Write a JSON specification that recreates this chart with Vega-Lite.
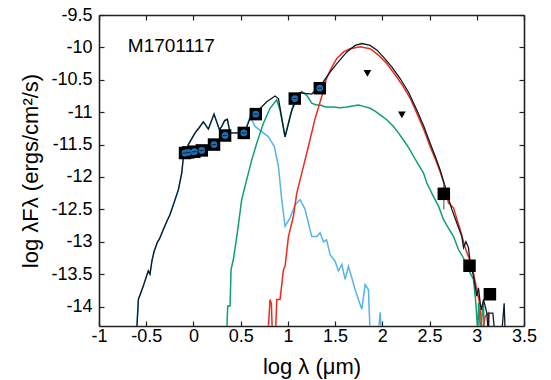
{
  "$schema": "https://vega.github.io/schema/vega-lite/v6.json",
  "width": 425,
  "height": 311,
  "autosize": {"type": "none"},
  "padding": {"left": 99, "top": 15, "right": 27, "bottom": 54},
  "background": "white",
  "config": {
    "view": {"stroke": null},
    "axis": {
      "labelFont": "Liberation Sans",
      "titleFont": "Liberation Sans",
      "labelFontSize": 18,
      "titleFontSize": 22,
      "titleFontWeight": "normal",
      "labelColor": "#000",
      "titleColor": "#000",
      "domainColor": "#222",
      "domainWidth": 1.6,
      "tickColor": "#222",
      "tickWidth": 1.2,
      "tickSize": -5,
      "grid": false,
      "labelFlush": false,
      "labelOverlap": false,
      "labelExpr": "'' + datum.value"
    }
  },
  "datasets": {
    "lines": [
      {"s": "stellar", "x": -0.6, "y": -14.35},
      {"s": "stellar", "x": -0.583, "y": -13.89},
      {"s": "stellar", "x": -0.53, "y": -13.68},
      {"s": "stellar", "x": -0.49, "y": -13.5},
      {"s": "stellar", "x": -0.478, "y": -13.45},
      {"s": "stellar", "x": -0.46, "y": -13.5},
      {"s": "stellar", "x": -0.44, "y": -13.3},
      {"s": "stellar", "x": -0.417, "y": -13.15},
      {"s": "stellar", "x": -0.38, "y": -13.0},
      {"s": "stellar", "x": -0.361, "y": -12.96},
      {"s": "stellar", "x": -0.319, "y": -12.81},
      {"s": "stellar", "x": -0.28, "y": -12.68},
      {"s": "stellar", "x": -0.248, "y": -12.58},
      {"s": "stellar", "x": -0.213, "y": -12.43},
      {"s": "stellar", "x": -0.16, "y": -12.2},
      {"s": "stellar", "x": -0.124, "y": -11.94},
      {"s": "stellar", "x": -0.107, "y": -11.7},
      {"s": "stellar", "x": -0.054, "y": -11.5},
      {"s": "stellar", "x": 0.017, "y": -11.32},
      {"s": "stellar", "x": 0.06, "y": -11.24},
      {"s": "stellar", "x": 0.105, "y": -11.15},
      {"s": "stellar", "x": 0.158, "y": -11.26},
      {"s": "stellar", "x": 0.218, "y": -11.03},
      {"s": "stellar", "x": 0.275, "y": -11.27},
      {"s": "stellar", "x": 0.3, "y": -11.22},
      {"s": "stellar", "x": 0.33, "y": -11.13},
      {"s": "stellar", "x": 0.359, "y": -11.11},
      {"s": "stellar", "x": 0.388, "y": -11.32},
      {"s": "stellar", "x": 0.44, "y": -11.32},
      {"s": "stellar", "x": 0.476, "y": -11.32},
      {"s": "stellar", "x": 0.547, "y": -11.29},
      {"s": "stellar", "x": 0.6, "y": -11.07},
      {"s": "stellar", "x": 0.653, "y": -11.22},
      {"s": "stellar", "x": 0.724, "y": -11.3},
      {"s": "stellar", "x": 0.794, "y": -11.38},
      {"s": "stellar", "x": 0.857, "y": -11.53},
      {"s": "stellar", "x": 0.9, "y": -11.84},
      {"s": "stellar", "x": 0.935, "y": -12.35},
      {"s": "stellar", "x": 0.97, "y": -12.76},
      {"s": "stellar", "x": 1.023, "y": -12.63},
      {"s": "stellar", "x": 1.076, "y": -12.43},
      {"s": "stellar", "x": 1.129, "y": -12.35},
      {"s": "stellar", "x": 1.182, "y": -12.5},
      {"s": "stellar", "x": 1.217, "y": -12.71},
      {"s": "stellar", "x": 1.253, "y": -12.92},
      {"s": "stellar", "x": 1.306, "y": -12.92},
      {"s": "stellar", "x": 1.341, "y": -12.86},
      {"s": "stellar", "x": 1.376, "y": -13.0},
      {"s": "stellar", "x": 1.41, "y": -12.97},
      {"s": "stellar", "x": 1.447, "y": -13.2},
      {"s": "stellar", "x": 1.5, "y": -13.3},
      {"s": "stellar", "x": 1.535, "y": -13.45},
      {"s": "stellar", "x": 1.571, "y": -13.35},
      {"s": "stellar", "x": 1.606, "y": -13.58},
      {"s": "stellar", "x": 1.641, "y": -13.38},
      {"s": "stellar", "x": 1.677, "y": -13.56},
      {"s": "stellar", "x": 1.712, "y": -13.74},
      {"s": "stellar", "x": 1.747, "y": -13.89},
      {"s": "stellar", "x": 1.783, "y": -14.04},
      {"s": "stellar", "x": 1.818, "y": -13.66},
      {"s": "stellar", "x": 1.853, "y": -13.74},
      {"s": "stellar", "x": 1.87, "y": -14.4},
      {"s": "stellar", "x": 1.96, "y": -14.4},
      {"s": "stellar", "x": 1.977, "y": -14.09},
      {"s": "stellar", "x": 1.99, "y": -14.4},

      {"s": "envelope", "x": 0.352, "y": -14.4},
      {"s": "envelope", "x": 0.363, "y": -13.99},
      {"s": "envelope", "x": 0.388, "y": -13.99},
      {"s": "envelope", "x": 0.398, "y": -13.43},
      {"s": "envelope", "x": 0.423, "y": -13.27},
      {"s": "envelope", "x": 0.459, "y": -12.92},
      {"s": "envelope", "x": 0.511, "y": -12.35},
      {"s": "envelope", "x": 0.564, "y": -12.04},
      {"s": "envelope", "x": 0.617, "y": -11.74},
      {"s": "envelope", "x": 0.67, "y": -11.48},
      {"s": "envelope", "x": 0.741, "y": -11.17},
      {"s": "envelope", "x": 0.811, "y": -10.94},
      {"s": "envelope", "x": 0.882, "y": -10.81},
      {"s": "envelope", "x": 0.917, "y": -10.97},
      {"s": "envelope", "x": 0.97, "y": -11.38},
      {"s": "envelope", "x": 1.023, "y": -11.07},
      {"s": "envelope", "x": 1.076, "y": -10.79},
      {"s": "envelope", "x": 1.147, "y": -10.68},
      {"s": "envelope", "x": 1.2, "y": -10.74},
      {"s": "envelope", "x": 1.253, "y": -10.86},
      {"s": "envelope", "x": 1.3, "y": -10.89},
      {"s": "envelope", "x": 1.341, "y": -10.89},
      {"s": "envelope", "x": 1.4, "y": -10.92},
      {"s": "envelope", "x": 1.482, "y": -10.92},
      {"s": "envelope", "x": 1.55, "y": -10.93},
      {"s": "envelope", "x": 1.624, "y": -10.92},
      {"s": "envelope", "x": 1.7, "y": -10.9},
      {"s": "envelope", "x": 1.747, "y": -10.89},
      {"s": "envelope", "x": 1.8, "y": -10.91},
      {"s": "envelope", "x": 1.871, "y": -10.94},
      {"s": "envelope", "x": 1.93, "y": -10.99},
      {"s": "envelope", "x": 1.977, "y": -11.04},
      {"s": "envelope", "x": 2.05, "y": -11.12},
      {"s": "envelope", "x": 2.118, "y": -11.22},
      {"s": "envelope", "x": 2.17, "y": -11.32},
      {"s": "envelope", "x": 2.224, "y": -11.43},
      {"s": "envelope", "x": 2.28, "y": -11.55},
      {"s": "envelope", "x": 2.33, "y": -11.68},
      {"s": "envelope", "x": 2.39, "y": -11.83},
      {"s": "envelope", "x": 2.436, "y": -11.94},
      {"s": "envelope", "x": 2.47, "y": -12.09},
      {"s": "envelope", "x": 2.54, "y": -12.3},
      {"s": "envelope", "x": 2.595, "y": -12.45},
      {"s": "envelope", "x": 2.648, "y": -12.66},
      {"s": "envelope", "x": 2.7, "y": -12.79},
      {"s": "envelope", "x": 2.754, "y": -12.92},
      {"s": "envelope", "x": 2.806, "y": -13.12},
      {"s": "envelope", "x": 2.859, "y": -13.25},
      {"s": "envelope", "x": 2.912, "y": -13.43},
      {"s": "envelope", "x": 2.965, "y": -13.58},
      {"s": "envelope", "x": 2.99, "y": -13.94},
      {"s": "envelope", "x": 3.01, "y": -14.4},
      {"s": "envelope", "x": 3.02, "y": -13.94},
      {"s": "envelope", "x": 3.04, "y": -14.4},
      {"s": "envelope", "x": 3.07, "y": -13.94},
      {"s": "envelope", "x": 3.08, "y": -14.4},

      {"s": "disk", "x": 0.79, "y": -14.4},
      {"s": "disk", "x": 0.811, "y": -13.89},
      {"s": "disk", "x": 0.825, "y": -13.95},
      {"s": "disk", "x": 0.835, "y": -14.4},
      {"s": "disk", "x": 0.87, "y": -14.4},
      {"s": "disk", "x": 0.882, "y": -13.89},
      {"s": "disk", "x": 0.917, "y": -13.89},
      {"s": "disk", "x": 0.953, "y": -13.43},
      {"s": "disk", "x": 0.97, "y": -13.38},
      {"s": "disk", "x": 1.006, "y": -12.92},
      {"s": "disk", "x": 1.058, "y": -12.61},
      {"s": "disk", "x": 1.094, "y": -12.25},
      {"s": "disk", "x": 1.147, "y": -11.94},
      {"s": "disk", "x": 1.217, "y": -11.53},
      {"s": "disk", "x": 1.288, "y": -11.1},
      {"s": "disk", "x": 1.36, "y": -10.75},
      {"s": "disk", "x": 1.411, "y": -10.47},
      {"s": "disk", "x": 1.46, "y": -10.32},
      {"s": "disk", "x": 1.518, "y": -10.17},
      {"s": "disk", "x": 1.59, "y": -10.07},
      {"s": "disk", "x": 1.659, "y": -10.02},
      {"s": "disk", "x": 1.765, "y": -9.99},
      {"s": "disk", "x": 1.871, "y": -10.02},
      {"s": "disk", "x": 1.96, "y": -10.12},
      {"s": "disk", "x": 2.047, "y": -10.25},
      {"s": "disk", "x": 2.14, "y": -10.43},
      {"s": "disk", "x": 2.224, "y": -10.61},
      {"s": "disk", "x": 2.3, "y": -10.8},
      {"s": "disk", "x": 2.366, "y": -11.02},
      {"s": "disk", "x": 2.44, "y": -11.27},
      {"s": "disk", "x": 2.506, "y": -11.53},
      {"s": "disk", "x": 2.56, "y": -11.72},
      {"s": "disk", "x": 2.612, "y": -11.92},
      {"s": "disk", "x": 2.665, "y": -12.15},
      {"s": "disk", "x": 2.7, "y": -12.4},
      {"s": "disk", "x": 2.754, "y": -12.48},
      {"s": "disk", "x": 2.824, "y": -12.81},
      {"s": "disk", "x": 2.877, "y": -13.09},
      {"s": "disk", "x": 2.93, "y": -13.3},
      {"s": "disk", "x": 2.965, "y": -13.48},
      {"s": "disk", "x": 3.0, "y": -13.74},
      {"s": "disk", "x": 3.036, "y": -13.99},
      {"s": "disk", "x": 3.055, "y": -14.4},
      {"s": "disk", "x": 3.09, "y": -14.15},
      {"s": "disk", "x": 3.12, "y": -14.1},
      {"s": "disk", "x": 3.13, "y": -14.4},

      {"s": "total", "x": -0.6, "y": -14.35},
      {"s": "total", "x": -0.583, "y": -13.89},
      {"s": "total", "x": -0.53, "y": -13.68},
      {"s": "total", "x": -0.49, "y": -13.5},
      {"s": "total", "x": -0.478, "y": -13.45},
      {"s": "total", "x": -0.46, "y": -13.5},
      {"s": "total", "x": -0.44, "y": -13.3},
      {"s": "total", "x": -0.417, "y": -13.15},
      {"s": "total", "x": -0.38, "y": -13.0},
      {"s": "total", "x": -0.361, "y": -12.96},
      {"s": "total", "x": -0.319, "y": -12.81},
      {"s": "total", "x": -0.28, "y": -12.68},
      {"s": "total", "x": -0.248, "y": -12.58},
      {"s": "total", "x": -0.213, "y": -12.43},
      {"s": "total", "x": -0.16, "y": -12.2},
      {"s": "total", "x": -0.124, "y": -11.94},
      {"s": "total", "x": -0.107, "y": -11.7},
      {"s": "total", "x": -0.054, "y": -11.5},
      {"s": "total", "x": 0.017, "y": -11.32},
      {"s": "total", "x": 0.06, "y": -11.24},
      {"s": "total", "x": 0.105, "y": -11.15},
      {"s": "total", "x": 0.158, "y": -11.26},
      {"s": "total", "x": 0.218, "y": -11.03},
      {"s": "total", "x": 0.275, "y": -11.27},
      {"s": "total", "x": 0.3, "y": -11.22},
      {"s": "total", "x": 0.33, "y": -11.13},
      {"s": "total", "x": 0.359, "y": -11.11},
      {"s": "total", "x": 0.388, "y": -11.32},
      {"s": "total", "x": 0.44, "y": -11.32},
      {"s": "total", "x": 0.476, "y": -11.32},
      {"s": "total", "x": 0.547, "y": -11.29},
      {"s": "total", "x": 0.607, "y": -11.07},
      {"s": "total", "x": 0.688, "y": -10.97},
      {"s": "total", "x": 0.776, "y": -10.84},
      {"s": "total", "x": 0.864, "y": -10.75},
      {"s": "total", "x": 0.9, "y": -10.79},
      {"s": "total", "x": 0.97, "y": -11.38},
      {"s": "total", "x": 1.041, "y": -10.97},
      {"s": "total", "x": 1.129, "y": -10.7},
      {"s": "total", "x": 1.182, "y": -10.71},
      {"s": "total", "x": 1.253, "y": -10.72},
      {"s": "total", "x": 1.376, "y": -10.53},
      {"s": "total", "x": 1.447, "y": -10.38},
      {"s": "total", "x": 1.518, "y": -10.25},
      {"s": "total", "x": 1.624, "y": -10.07},
      {"s": "total", "x": 1.712, "y": -9.97},
      {"s": "total", "x": 1.783, "y": -9.94},
      {"s": "total", "x": 1.871, "y": -9.97},
      {"s": "total", "x": 1.95, "y": -10.05},
      {"s": "total", "x": 2.012, "y": -10.15},
      {"s": "total", "x": 2.1, "y": -10.3},
      {"s": "total", "x": 2.189, "y": -10.48},
      {"s": "total", "x": 2.28, "y": -10.7},
      {"s": "total", "x": 2.366, "y": -10.97},
      {"s": "total", "x": 2.44, "y": -11.22},
      {"s": "total", "x": 2.506, "y": -11.48},
      {"s": "total", "x": 2.56, "y": -11.68},
      {"s": "total", "x": 2.612, "y": -11.89},
      {"s": "total", "x": 2.65, "y": -12.08},
      {"s": "total", "x": 2.683, "y": -12.25},
      {"s": "total", "x": 2.736, "y": -12.5},
      {"s": "total", "x": 2.789, "y": -12.71},
      {"s": "total", "x": 2.842, "y": -12.92},
      {"s": "total", "x": 2.86, "y": -13.09},
      {"s": "total", "x": 2.885, "y": -13.0},
      {"s": "total", "x": 2.912, "y": -13.09},
      {"s": "total", "x": 2.93, "y": -13.32},
      {"s": "total", "x": 2.965, "y": -13.53},
      {"s": "total", "x": 3.0, "y": -13.84},
      {"s": "total", "x": 3.018, "y": -13.71},
      {"s": "total", "x": 3.036, "y": -13.94},
      {"s": "total", "x": 3.05, "y": -14.05},
      {"s": "total", "x": 3.071, "y": -13.89},
      {"s": "total", "x": 3.107, "y": -14.1},
      {"s": "total", "x": 3.12, "y": -14.4},
      {"s": "total", "x": 3.13, "y": -14.1},
      {"s": "total", "x": 3.17, "y": -14.1},
      {"s": "total", "x": 3.19, "y": -14.4},
      {"s": "total", "x": 3.265, "y": -14.4},
      {"s": "total", "x": 3.29, "y": -13.95},
      {"s": "total", "x": 3.3, "y": -14.4}
    ],
    "obs": [
      {"x": -0.089, "y": -11.63, "b": 1},
      {"x": -0.054, "y": -11.62, "b": 1},
      {"x": 0.01, "y": -11.61, "b": 1},
      {"x": 0.088, "y": -11.59, "b": 1},
      {"x": 0.218, "y": -11.5, "b": 1},
      {"x": 0.335, "y": -11.36, "b": 1},
      {"x": 0.533, "y": -11.32, "b": 1},
      {"x": 0.66, "y": -11.03, "b": 1},
      {"x": 1.073, "y": -10.79, "b": 1},
      {"x": 1.338, "y": -10.63, "b": 1},
      {"x": 2.651, "y": -12.26, "b": 0},
      {"x": 2.923, "y": -13.37, "b": 0},
      {"x": 3.139, "y": -13.81, "b": 0}
    ],
    "errs": [
      {"x": 2.651, "lo": -12.5, "hi": -12.1}
    ],
    "lims": [
      {"x": 1.842, "y": -10.4},
      {"x": 2.207, "y": -11.04}
    ],
    "labels": [
      {"x": -0.695, "y": -9.985, "t": "M1701117"}
    ]
  },
  "layer": [
    {
      "data": {"name": "lines"},
      "transform": [{"filter": "datum.s === 'stellar'"}],
      "mark": {"type": "line", "color": "#56B4E9", "strokeWidth": 1.5, "clip": true},
      "encoding": {
        "x": {"field": "x", "type": "quantitative", "scale": {"domain": [-1, 3.5], "nice": false, "zero": false},
          "axis": {"orient": "bottom", "values": [-1, -0.5, 0, 0.5, 1, 1.5, 2, 2.5, 3, 3.5], "title": "log λ (μm)", "labelPadding": 6, "titlePadding": 11}},
        "y": {"field": "y", "type": "quantitative", "scale": {"domain": [-14.3, -9.5], "nice": false, "zero": false},
          "axis": {"orient": "left", "values": [-14, -13.5, -13, -12.5, -12, -11.5, -11, -10.5, -10, -9.5], "title": "log λFλ (ergs/cm²/s)", "labelPadding": 12, "titlePadding": 8}}
      }
    },
    {
      "data": {"name": "lines"},
      "transform": [{"filter": "datum.s === 'envelope'"}],
      "mark": {"type": "line", "color": "#0E9F72", "strokeWidth": 1.5, "clip": true},
      "encoding": {
        "x": {"field": "x", "type": "quantitative", "scale": {"domain": [-1, 3.5], "nice": false, "zero": false}, "axis": null},
        "y": {"field": "y", "type": "quantitative", "scale": {"domain": [-14.3, -9.5], "nice": false, "zero": false}, "axis": null}
      }
    },
    {
      "data": {"name": "lines"},
      "transform": [{"filter": "datum.s === 'disk'"}],
      "mark": {"type": "line", "color": "#EE2A1B", "strokeWidth": 1.5, "clip": true},
      "encoding": {
        "x": {"field": "x", "type": "quantitative", "scale": {"domain": [-1, 3.5], "nice": false, "zero": false}, "axis": null},
        "y": {"field": "y", "type": "quantitative", "scale": {"domain": [-14.3, -9.5], "nice": false, "zero": false}, "axis": null}
      }
    },
    {
      "data": {"name": "lines"},
      "transform": [{"filter": "datum.s === 'total'"}],
      "mark": {"type": "line", "color": "#0A1A26", "strokeWidth": 1.3, "clip": true},
      "encoding": {
        "x": {"field": "x", "type": "quantitative", "scale": {"domain": [-1, 3.5], "nice": false, "zero": false}, "axis": null},
        "y": {"field": "y", "type": "quantitative", "scale": {"domain": [-14.3, -9.5], "nice": false, "zero": false}, "axis": null}
      }
    },
    {
      "data": {"name": "errs"},
      "mark": {"type": "rule", "color": "#666666", "strokeWidth": 1.2},
      "encoding": {
        "x": {"field": "x", "type": "quantitative", "scale": {"domain": [-1, 3.5], "nice": false, "zero": false}, "axis": null},
        "y": {"field": "lo", "type": "quantitative", "scale": {"domain": [-14.3, -9.5], "nice": false, "zero": false}, "axis": null},
        "y2": {"field": "hi"}
      }
    },
    {
      "data": {"name": "obs"},
      "mark": {"type": "point", "shape": "square", "filled": true, "color": "#000000", "opacity": 1, "size": 156},
      "encoding": {
        "x": {"field": "x", "type": "quantitative", "scale": {"domain": [-1, 3.5], "nice": false, "zero": false}, "axis": null},
        "y": {"field": "y", "type": "quantitative", "scale": {"domain": [-14.3, -9.5], "nice": false, "zero": false}, "axis": null}
      }
    },
    {
      "data": {"name": "obs"},
      "transform": [{"filter": "datum.b === 1"}],
      "mark": {"type": "point", "shape": "circle", "filled": true, "color": "#1F6FB0", "opacity": 1, "size": 46},
      "encoding": {
        "x": {"field": "x", "type": "quantitative", "scale": {"domain": [-1, 3.5], "nice": false, "zero": false}, "axis": null},
        "y": {"field": "y", "type": "quantitative", "scale": {"domain": [-14.3, -9.5], "nice": false, "zero": false}, "axis": null}
      }
    },
    {
      "data": {"name": "obs"},
      "transform": [{"filter": "datum.b === 1"}],
      "mark": {"type": "point", "shape": "stroke", "color": "#0A2E4A", "opacity": 1, "size": 22, "strokeWidth": 1},
      "encoding": {
        "x": {"field": "x", "type": "quantitative", "scale": {"domain": [-1, 3.5], "nice": false, "zero": false}, "axis": null},
        "y": {"field": "y", "type": "quantitative", "scale": {"domain": [-14.3, -9.5], "nice": false, "zero": false}, "axis": null}
      }
    },
    {
      "data": {"name": "lims"},
      "mark": {"type": "point", "shape": "triangle-down", "filled": true, "color": "#000000", "opacity": 1, "size": 60},
      "encoding": {
        "x": {"field": "x", "type": "quantitative", "scale": {"domain": [-1, 3.5], "nice": false, "zero": false},
          "axis": {"orient": "top", "values": [-1, -0.5, 0, 0.5, 1, 1.5, 2, 2.5, 3, 3.5], "labels": false, "title": null}},
        "y": {"field": "y", "type": "quantitative", "scale": {"domain": [-14.3, -9.5], "nice": false, "zero": false},
          "axis": {"orient": "right", "values": [-14, -13.5, -13, -12.5, -12, -11.5, -11, -10.5, -10, -9.5], "labels": false, "title": null}}
      }
    },
    {
      "data": {"name": "labels"},
      "mark": {"type": "text", "align": "left", "baseline": "middle", "font": "Liberation Sans", "fontSize": 19, "color": "#000000"},
      "encoding": {
        "x": {"field": "x", "type": "quantitative", "scale": {"domain": [-1, 3.5], "nice": false, "zero": false}, "axis": null},
        "y": {"field": "y", "type": "quantitative", "scale": {"domain": [-14.3, -9.5], "nice": false, "zero": false}, "axis": null},
        "text": {"field": "t"}
      }
    }
  ],
  "resolve": {"axis": {"x": "independent", "y": "independent"}}
}
